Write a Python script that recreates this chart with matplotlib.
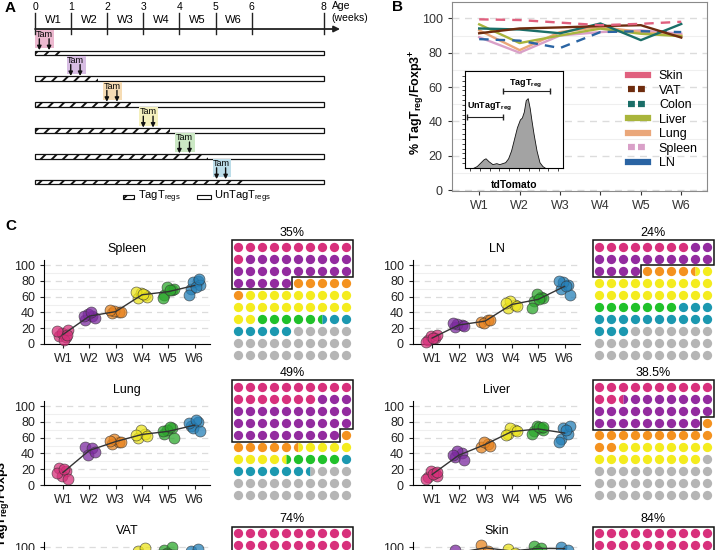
import numpy as np
import matplotlib.pyplot as plt
from matplotlib.patches import Rectangle, Polygon
from matplotlib.lines import Line2D

plt.rcParams.update({'font.family': ['Liberation Sans', 'DejaVu Sans'],
                     'mathtext.default': 'regular',
                     'hatch.linewidth': 1.4})

# ---------------- data ----------------
weeks = ['W1', 'W2', 'W3', 'W4', 'W5', 'W6']
age_ticks = [0, 1, 2, 3, 4, 5, 6, 8]
tag_end = [0.78, 1.75, 2.67, 3.75, 4.8, 5.9]          # hatched part of each bar (weeks)
tam_days = [(0.12, 0.39), (0.99, 1.25), (1.99, 2.27), (3.0, 3.27), (4.0, 4.28), (5.03, 5.28)]
tam_colors = ['#ecb8cf', '#d7bde3', '#f6dcb4', '#f4f0bd', '#cbe8c4', '#bcdde9']

organs_b = ['Skin', 'VAT', 'Colon', 'Liver', 'Lung', 'Spleen', 'LN']
skin_b = [99.4, 99.0, 97.5, 96.0, 96.8, 98.0]
vat_b = [91.3, 94.1, 94.7, 95.5, 96.0, 88.8]
colon_b = [94.1, 93.5, 91.3, 97.0, 87.3, 96.7]
liver_b = [96.5, 85.6, 90.0, 94.0, 91.0, 89.6]
lung_b = [93.0, 81.5, 92.0, 95.0, 92.0, 90.0]
spleen_b = [89.0, 80.0, 90.0, 92.0, 93.0, 91.0]
ln_b = [87.9, 87.0, 82.7, 92.0, 92.5, 92.0]
colors_b = ['#e0607e', '#6e2c0e', '#1a6e68', '#a9b53c', '#eaa77a', '#d9a0c8', '#2a64a3']
styles_b = [(0, (4, 3)), '-', '-', '-', '-', '-', (0, (4, 3))]

# inset histogram (fraction of inset box)
hist_x = [0.08, 0.12, 0.16, 0.19, 0.21, 0.24, 0.28, 0.32, 0.35, 0.38, 0.41, 0.44, 0.47,
          0.50, 0.53, 0.56, 0.58, 0.60, 0.62, 0.64, 0.66, 0.68, 0.70, 0.73, 0.76, 0.79, 0.82]
hist_y = [0.0, 0.02, 0.06, 0.09, 0.10, 0.07, 0.04, 0.05, 0.04, 0.05, 0.06, 0.10, 0.18,
          0.30, 0.42, 0.50, 0.52, 0.58, 0.70, 0.72, 0.62, 0.48, 0.35, 0.18, 0.06, 0.02, 0.0]

# panel C: individual points per week
spleen_pts = [[10, 9, 14, 18, 16, 5, 12], [30, 35, 38, 33, 36, 40], [39, 41, 42, 40, 43],
              [58, 62, 65, 60, 66, 63], [62, 68, 72, 70, 58, 68], [70, 80, 78, 75, 62, 72, 82]]
ln_pts = [[5, 8, 10, 12, 3, 7], [22, 24, 25, 23, 26], [28, 30, 27, 31],
          [45, 50, 55, 48, 52], [55, 60, 63, 58, 46, 57], [70, 75, 78, 62, 80, 73]]
lung_pts = [[22, 18, 12, 8, 15, 20], [48, 47, 38, 42], [52, 55, 58, 54, 56],
            [60, 65, 70, 62, 63], [65, 72, 70, 60, 68, 73], [75, 80, 72, 68, 78, 82]]
liver_pts = [[10, 15, 18, 12, 8, 14, 16], [35, 40, 43, 32, 38], [48, 52, 55, 50],
             [65, 70, 72, 68, 63], [68, 72, 75, 70, 65, 73, 74], [58, 65, 72, 75, 55, 70]]
vat_pts = [[30, 35], [60, 65], [80, 85], [95, 99, 90], [96, 100, 92], [95, 98, 90]]
skin_pts = [[60, 55], [96, 90], [103, 95], [98, 92], [101, 99, 95], [100, 96]]
jitter = [-0.15, 0.12, -0.05, 0.2, -0.22, 0.05, 0.17]

# waffle: cumulative boundaries of W1..W6 (rest grey)
spleen_cum = [11, 35, 41, 62, 67.5, 75]
ln_cum = [8, 24, 28.5, 50, 57, 73]
lung_cum = [17, 49, 55.5, 64.5, 69, 76.5]
liver_cum = [12.5, 39, 52, 69, 69, 69]
vat_cum = [45, 74, 82, 90, 94, 97]
skin_cum = [50, 84, 90, 94, 96, 98]
pct_labels = ['35%', '24%', '49%', '38.5%', '74%', '84%']
outline_n = [35, 24, 49, 39, 74, 84]

week_colors = ['#d6307a', '#7d2ba0', '#e8841f', '#ece41e', '#2da82d', '#2680b8']
waffle_colors = ['#d8307c', '#932b9f', '#f4921f', '#f4ec1e', '#20c12a', '#1b98b0']
grey = '#b5b5b5'

W, H = 715, 550
fig = plt.figure(figsize=(7.15, 5.5), dpi=100)


def px_axes(x0, y0, x1, y1):
    return fig.add_axes([x0 / W, 1 - y1 / H, (x1 - x0) / W, (y1 - y0) / H])


# ---------------- panel A ----------------
axA = px_axes(0, 0, 360, 210)
axA.set_xlim(-35 / 36.1, 325 / 36.1)
axA.set_ylim(157 / 25.8, -53 / 25.8)
axA.axis('off')
y_axis = -0.93
axA.annotate('', xy=(8.45, y_axis), xytext=(0, y_axis),
             arrowprops=dict(arrowstyle='-|>', color='#222', lw=1.3, mutation_scale=9,
                             shrinkA=0, shrinkB=0))
for t in age_ticks:
    axA.plot([t, t], [-1.55, -0.72], color='#222', lw=1)
    axA.text(t, -1.8, str(t), ha='center', va='center', fontsize=7.5)
for k, w in enumerate(weeks):
    axA.text(k + 0.5, -1.28, w, ha='center', va='center', fontsize=8)
axA.text(8.22, -1.82, 'Age', ha='left', va='center', fontsize=7.5)
axA.text(8.22, -1.36, '(weeks)', ha='left', va='center', fontsize=7.5)

for i in range(6):
    a1, a2 = tam_days[i]
    axA.add_patch(Rectangle((a1 - 0.11, i - 0.89), (a2 - a1) + 0.26, 0.71,
                            fc=tam_colors[i], ec='none'))
    axA.text((a1 + a2) / 2, i - 0.72, 'Tam', ha='center', va='center', fontsize=6.5)
    for a in (a1, a2):
        axA.annotate('', xy=(a, i - 0.11), xytext=(a, i - 0.55),
                     arrowprops=dict(arrowstyle='-|>', color='#111', lw=1,
                                     mutation_scale=6, shrinkA=0, shrinkB=0))
    axA.add_patch(Rectangle((0, i - 0.09), 8, 0.18, fc='white', ec='none'))
    axA.add_patch(Rectangle((0, i - 0.09), tag_end[i], 0.18, fill=False, hatch='///',
                            ec='#111', lw=0))
    axA.add_patch(Rectangle((0, i - 0.09), 8, 0.18, fill=False, ec='#111', lw=0.9))

axA.add_patch(Rectangle((2.44, 5.5), 0.3, 0.16, fc='white', hatch='///', ec='#111', lw=0.8))
axA.text(2.85, 5.58, 'TagT$_{regs}$', ha='left', va='center', fontsize=8)
axA.add_patch(Rectangle((4.49, 5.5), 0.39, 0.16, fc='white', ec='#111', lw=0.8))
axA.text(4.95, 5.58, 'UnTagT$_{regs}$', ha='left', va='center', fontsize=8)

# ---------------- panel B ----------------
axB = px_axes(451.7, 2, 706.7, 191)
x = np.arange(1, 7)
series_b = [skin_b, vat_b, colon_b, liver_b, lung_b, spleen_b, ln_b]
order = [5, 4, 3, 6, 2, 1, 0]
for k in order:
    axB.plot(x, series_b[k], color=colors_b[k], ls=styles_b[k], lw=1.7, zorder=3)
axB.set_xlim(0.32, 6.63)
axB.set_ylim(-0.5, 109.5)
axB.set_xticks(x)
axB.set_xticklabels(weeks)
axB.set_yticks(range(0, 101, 20))
axB.set_yticks(range(10, 110, 20), minor=True)
axB.grid(axis='y', which='major', ls=(0, (5, 4)), color='#dcdcdc', lw=1)
axB.grid(axis='y', which='minor', color='#efefef', lw=0.8)
axB.tick_params(which='minor', length=0)
axB.tick_params(labelsize=9, colors='#333', length=3)
for s in axB.spines.values():
    s.set_color('#8a8a8a')
fig.text(417 / W, 1 - 102 / H, '% TagT$_{reg}$/Foxp3$^{+}$', rotation=90, ha='center',
         va='center', fontsize=9, fontweight='bold')

handles = [Line2D([], [], color=colors_b[k], lw=4.5,
                  ls=(0, (1.1, 0.5)) if organs_b[k] in ('VAT', 'Colon', 'Spleen') else '-')
           for k in range(7)]
axB.legend(handles, organs_b, loc='upper left', bbox_to_anchor=(0.69, 0.64), frameon=False,
           fontsize=9, handlelength=1.6, labelspacing=0.2, handletextpad=0.9,
           borderpad=0, borderaxespad=0)

inset = px_axes(465, 71, 563, 168)
inset.fill_between(hist_x, hist_y, color='#a3a3a3', ec='#111', lw=0.6)
inset.set_xlim(0, 1)
inset.set_ylim(0, 1)
inset.set_xticks(np.linspace(0.05, 0.95, 10))
inset.set_yticks(np.linspace(0.05, 0.95, 19))
inset.set_xticklabels([])
inset.set_yticklabels([])
inset.tick_params(length=2, width=0.5)
for s in inset.spines.values():
    s.set_linewidth(0.8)
inset.plot([0.02, 0.39], [0.53, 0.53], color='#222', lw=0.8, marker='|', ms=4)
inset.plot([0.39, 0.87], [0.79, 0.79], color='#222', lw=0.8, marker='|', ms=4)
inset.text(0.02, 0.63, 'UnTagT$_{reg}$', fontsize=6.5, fontweight='bold', va='center')
inset.text(0.62, 0.87, 'TagT$_{reg}$', fontsize=6.5, fontweight='bold', va='center',
           ha='center')
inset.set_xlabel('tdTomato', fontsize=7.5, fontweight='bold', labelpad=3)

# ---------------- panel C ----------------
organs_c = ['Spleen', 'LN', 'Lung', 'Liver', 'VAT', 'Skin']
pts_c = [spleen_pts, ln_pts, lung_pts, liver_pts, vat_pts, skin_pts]
cum_c = [spleen_cum, ln_cum, lung_cum, liver_cum, vat_cum, skin_cum]
scatter_cols = [(44, 210), (413, 580)]
scatter_bottoms = [344, 485, 626]
waffle_x0 = [238.3, 599.3]
waffle_y0 = [246.5, 387, 533.3]


def seg_color(v, cum):
    for k, b in enumerate(cum):
        if v < b:
            return waffle_colors[k]
    return grey


for n, organ in enumerate(organs_c):
    r, c = divmod(n, 2)
    x0, x1 = scatter_cols[c]
    yb = scatter_bottoms[r]
    ax = px_axes(x0, yb - 83.7, x1, yb)
    pts = pts_c[n]
    for k, vals in enumerate(pts):
        xs = [k + 1 + jitter[j % len(jitter)] for j in range(len(vals))]
        ax.scatter(xs, vals, s=62, color=week_colors[k], alpha=0.75, ec='#333',
                   lw=0.5, zorder=3, clip_on=False)
    ax.plot(x, [np.mean(v) for v in pts], color='#333', lw=1, zorder=4)
    ax.set_xlim(0.28, 6.58)
    ax.set_ylim(0, 106)
    ax.set_xticks(x)
    ax.set_xticklabels(weeks)
    ax.set_yticks(range(0, 101, 20))
    ax.set_yticks(range(10, 100, 20), minor=True)
    ax.grid(axis='y', which='major', ls=(0, (5, 4)), color='#dcdcdc', lw=0.9)
    ax.grid(axis='y', which='minor', color='#efefef', lw=0.8)
    ax.tick_params(which='minor', length=0)
    ax.tick_params(labelsize=9, colors='#222', length=3)
    for s in ['top', 'right']:
        ax.spines[s].set_visible(False)
    ax.set_title(organ, fontsize=9, pad=6)

    wx, wy = waffle_x0[c], waffle_y0[r]
    wa = px_axes(wx - 6, wy - 6, wx + 114, wy + 114)
    wa.set_xlim(-0.5, 9.5)
    wa.set_ylim(9.5, -0.5)
    wa.axis('off')
    cum = cum_c[n]
    for i in range(100):
        rr, cc = divmod(i, 10)
        left, right = seg_color(i + 0.25, cum), seg_color(i + 0.75, cum)
        if left == right:
            wa.plot(cc, rr, 'o', ms=6.7, color=left, mec='none', clip_on=False, zorder=3)
        else:
            wa.plot(cc, rr, 'o', ms=6.7, fillstyle='left', markerfacecolor=left,
                    markerfacecoloralt=right, mec='none', clip_on=False, zorder=3)
    on = outline_n[n]
    rows, rem = divmod(on, 10)
    p = 0.55
    if rem == 0:
        poly = [(-p, -p), (9 + p, -p), (9 + p, rows - 1 + p), (-p, rows - 1 + p)]
    else:
        poly = [(-p, -p), (9 + p, -p), (9 + p, rows - 0.5), (rem - 0.5, rows - 0.5),
                (rem - 0.5, rows + p), (-p, rows + p)]
    wa.add_patch(Polygon(poly, closed=True, fc='white', ec='#111', lw=1.1, zorder=2,
                         clip_on=False))
    wa.text(4.5, -1.15, pct_labels[n], ha='center', va='center', fontsize=9)

fig.text(3 / W, 1 - 455 / H, '% TagT$_{reg}$/Foxp3$^{+}$', rotation=90, ha='center',
         va='top', fontsize=9, fontweight='bold')

fig.text(5 / W, 1 - 8 / H, 'A', fontsize=11, fontweight='bold', va='center')
fig.text(392 / W, 1 - 7 / H, 'B', fontsize=11, fontweight='bold', va='center')
fig.text(5 / W, 1 - 226 / H, 'C', fontsize=11, fontweight='bold', va='center')

fig.savefig('out.png', dpi=100)
